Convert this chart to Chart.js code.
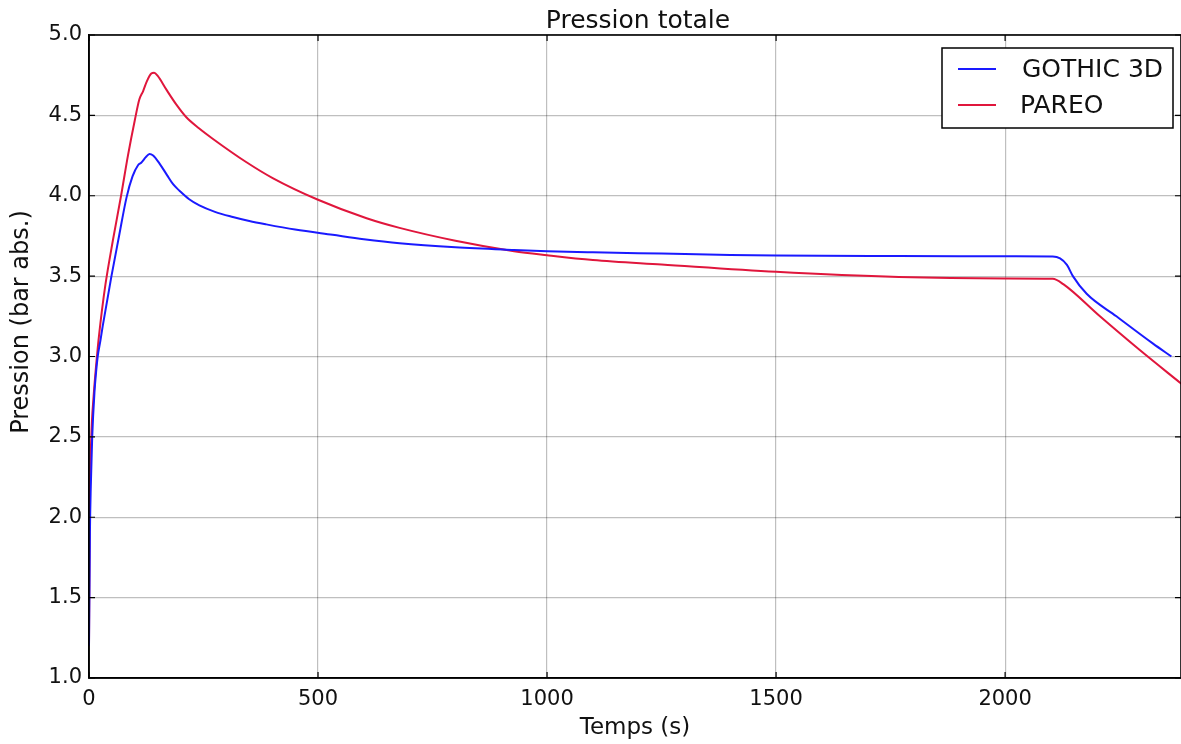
<!DOCTYPE html>
<html>
<head>
<meta charset="utf-8">
<script src="https://cdn.jsdelivr.net/npm/chart.js@4/dist/chart.umd.min.js"></script>
<style>
  body { margin: 0; background: #fff; }
  #wrap { width: 1181px; height: 744px; }
</style>
</head>
<body>
<div id="wrap"><canvas id="myChart1" width="1181" height="744"></canvas></div>
<script>
//------------------ データ ------------------//
// GOTHIC 3D : 時刻 (s) と圧力 (bar abs.)
const GOTHIC_T = [0, 2, 4, 7, 12, 16, 19, 25, 30, 49, 65, 82, 95, 107, 114, 124, 132, 140, 154, 170, 184, 198, 218, 241, 275, 314, 350, 387, 450, 532, 600, 678, 800, 928, 1000, 1100, 1250, 1400, 1500, 1600, 1768, 1900, 2000, 2104, 2120, 2135, 2148, 2178, 2243, 2323, 2363]
const GOTHIC_P = [1.2, 1.9, 2.2, 2.5, 2.78, 2.92, 3.0, 3.1, 3.19, 3.5, 3.74, 3.99, 4.12, 4.19, 4.205, 4.24, 4.26, 4.25, 4.2, 4.13, 4.07, 4.03, 3.98, 3.94, 3.9, 3.868, 3.843, 3.822, 3.79, 3.757, 3.73, 3.705, 3.68, 3.663, 3.655, 3.648, 3.64, 3.632, 3.628, 3.626, 3.625, 3.624, 3.623, 3.622, 3.61, 3.57, 3.50, 3.39, 3.25, 3.08, 3.0]

// PAREO
const PAREO_T = [0, 2, 5, 10, 19, 28, 36, 52, 70, 85, 100, 110, 118, 126, 136, 142, 150, 169, 190, 212, 240, 270, 343, 401, 500, 606, 678, 800, 928, 1000, 1100, 1250, 1500, 1768, 2000, 2104, 2127, 2207, 2294, 2385]
const PAREO_P = [1.2, 2.1, 2.5, 2.75, 3.05, 3.28, 3.45, 3.72, 4.0, 4.25, 4.47, 4.6, 4.65, 4.71, 4.76, 4.765, 4.745, 4.66, 4.57, 4.49, 4.42, 4.355, 4.21, 4.11, 3.975, 3.86, 3.80, 3.72, 3.655, 3.63, 3.60, 3.572, 3.527, 3.495, 3.486, 3.484, 3.45, 3.25, 3.04, 2.83]

// 軸
const X_MIN = 0
const X_MAX = 2384
const X_TICKS = [0, 500, 1000, 1500, 2000]
const Y_MIN = 1.0
const Y_MAX = 5.0
const Y_TICKS = [1.0, 1.5, 2.0, 2.5, 3.0, 3.5, 4.0, 4.5, 5.0]

const TITLE = 'Pression totale'
const X_LABEL = 'Temps (s)'
const Y_LABEL = 'Pression (bar abs.)'
const FONT = "'DejaVu Sans', sans-serif"
//-------------------------------------------//

function toPoints(ts, ps){
    return ts.map((t, i) => ({x: t, y: ps[i]}))
}

// タイトル・枠線・内向き目盛り・凡例・縦軸ラベルを描く
const framePlugin = {
    id: 'frame',
    afterDraw(chart){
        const ctx = chart.ctx
        const a = chart.chartArea
        const xs = chart.scales.x
        const ys = chart.scales.y
        ctx.save()
        // 内向き目盛り
        ctx.strokeStyle = '#000'
        ctx.lineWidth = 1.2
        ctx.beginPath()
        xs.ticks.forEach(t => {
            const px = xs.getPixelForValue(t.value)
            ctx.moveTo(px, a.bottom); ctx.lineTo(px, a.bottom - 6)
            ctx.moveTo(px, a.top); ctx.lineTo(px, a.top + 6)
        })
        ys.ticks.forEach(t => {
            const py = ys.getPixelForValue(t.value)
            ctx.moveTo(a.left, py); ctx.lineTo(a.left + 6, py)
            ctx.moveTo(a.right, py); ctx.lineTo(a.right - 6, py)
        })
        ctx.stroke()
        // 枠
        ctx.lineWidth = 1.6
        ctx.strokeRect(a.left, a.top, a.right - a.left, a.bottom - a.top)

        // タイトル
        ctx.fillStyle = '#111'
        ctx.font = '25px ' + FONT
        ctx.textAlign = 'center'
        ctx.textBaseline = 'alphabetic'
        ctx.fillText(TITLE, (a.left + a.right) / 2 + 3, 28)

        // 凡例
        const bx = 942, by = 48, bw = 231, bh = 80
        ctx.fillStyle = '#fff'
        ctx.fillRect(bx, by, bw, bh)
        ctx.lineWidth = 1.5
        ctx.strokeStyle = '#000'
        ctx.strokeRect(bx, by, bw, bh)
        const rows = [69, 105]
        chart.data.datasets.forEach((ds, i) => {
            ctx.strokeStyle = ds.borderColor
            ctx.lineWidth = 2
            ctx.beginPath()
            ctx.moveTo(958, rows[i]); ctx.lineTo(996, rows[i])
            ctx.stroke()
            ctx.fillStyle = '#111'
            ctx.font = '25px ' + FONT
            ctx.textBaseline = 'middle'
            ctx.textAlign = 'left'
            ctx.fillText(ds.label, i == 0 ? 1022 : 1020, rows[i] + 1)
        })

        // 縦軸ラベル
        ctx.translate(22, 322)
        ctx.rotate(-Math.PI / 2)
        ctx.fillStyle = '#111'
        ctx.font = '24px ' + FONT
        ctx.textAlign = 'center'
        ctx.textBaseline = 'middle'
        ctx.fillText(Y_LABEL, 0, 0)
        ctx.restore()
    }
}

const ctx = document.getElementById('myChart1')
window.myChart = new Chart(ctx, {
    type: 'line',
    data: {
        datasets: [
            {
                label: 'GOTHIC 3D',
                data: toPoints(GOTHIC_T, GOTHIC_P),
                borderColor: '#1a1aff',
                borderWidth: 2,
                pointRadius: 0,
                cubicInterpolationMode: 'monotone',
                fill: false
            },
            {
                label: 'PAREO',
                data: toPoints(PAREO_T, PAREO_P),
                borderColor: '#e0163c',
                borderWidth: 2,
                pointRadius: 0,
                cubicInterpolationMode: 'monotone',
                fill: false
            }
        ]
    },
    options: {
        responsive: false,
        animation: false,
        layout: { padding: { left: 0, right: 0, top: 35, bottom: 0 } },
        plugins: {
            legend: { display: false },
            tooltip: { enabled: false },
            title: { display: false }
        },
        scales: {
            x: {
                type: 'linear',
                min: X_MIN,
                max: X_MAX,
                afterBuildTicks(scale){ scale.ticks = X_TICKS.map(v => ({value: v})) },
                ticks: {
                    color: '#111',
                    font: { family: FONT, size: 21 },
                    padding: 9,
                    maxRotation: 0,
                    autoSkip: false,
                    callback: v => String(v)
                },
                grid: { color: 'rgba(0,0,0,0.25)', lineWidth: 1.2, drawTicks: false },
                border: { color: '#000', width: 1.6 },
                title: {
                    display: true,
                    text: X_LABEL,
                    color: '#111',
                    font: { family: FONT, size: 23 },
                    padding: { top: 0, bottom: 2 }
                },
                afterFit(scale){ scale.height = 66 }
            },
            y: {
                min: Y_MIN,
                max: Y_MAX,
                afterBuildTicks(scale){ scale.ticks = Y_TICKS.map(v => ({value: v})) },
                ticks: {
                    color: '#111',
                    font: { family: FONT, size: 21 },
                    padding: 7,
                    autoSkip: false,
                    callback: v => v.toFixed(1)
                },
                grid: { color: 'rgba(0,0,0,0.25)', lineWidth: 1.2, drawTicks: false },
                border: { color: '#000', width: 1.6 },
                afterFit(scale){ scale.width = 89 }
            }
        }
    },
    plugins: [framePlugin]
})
</script>
</body>
</html>
